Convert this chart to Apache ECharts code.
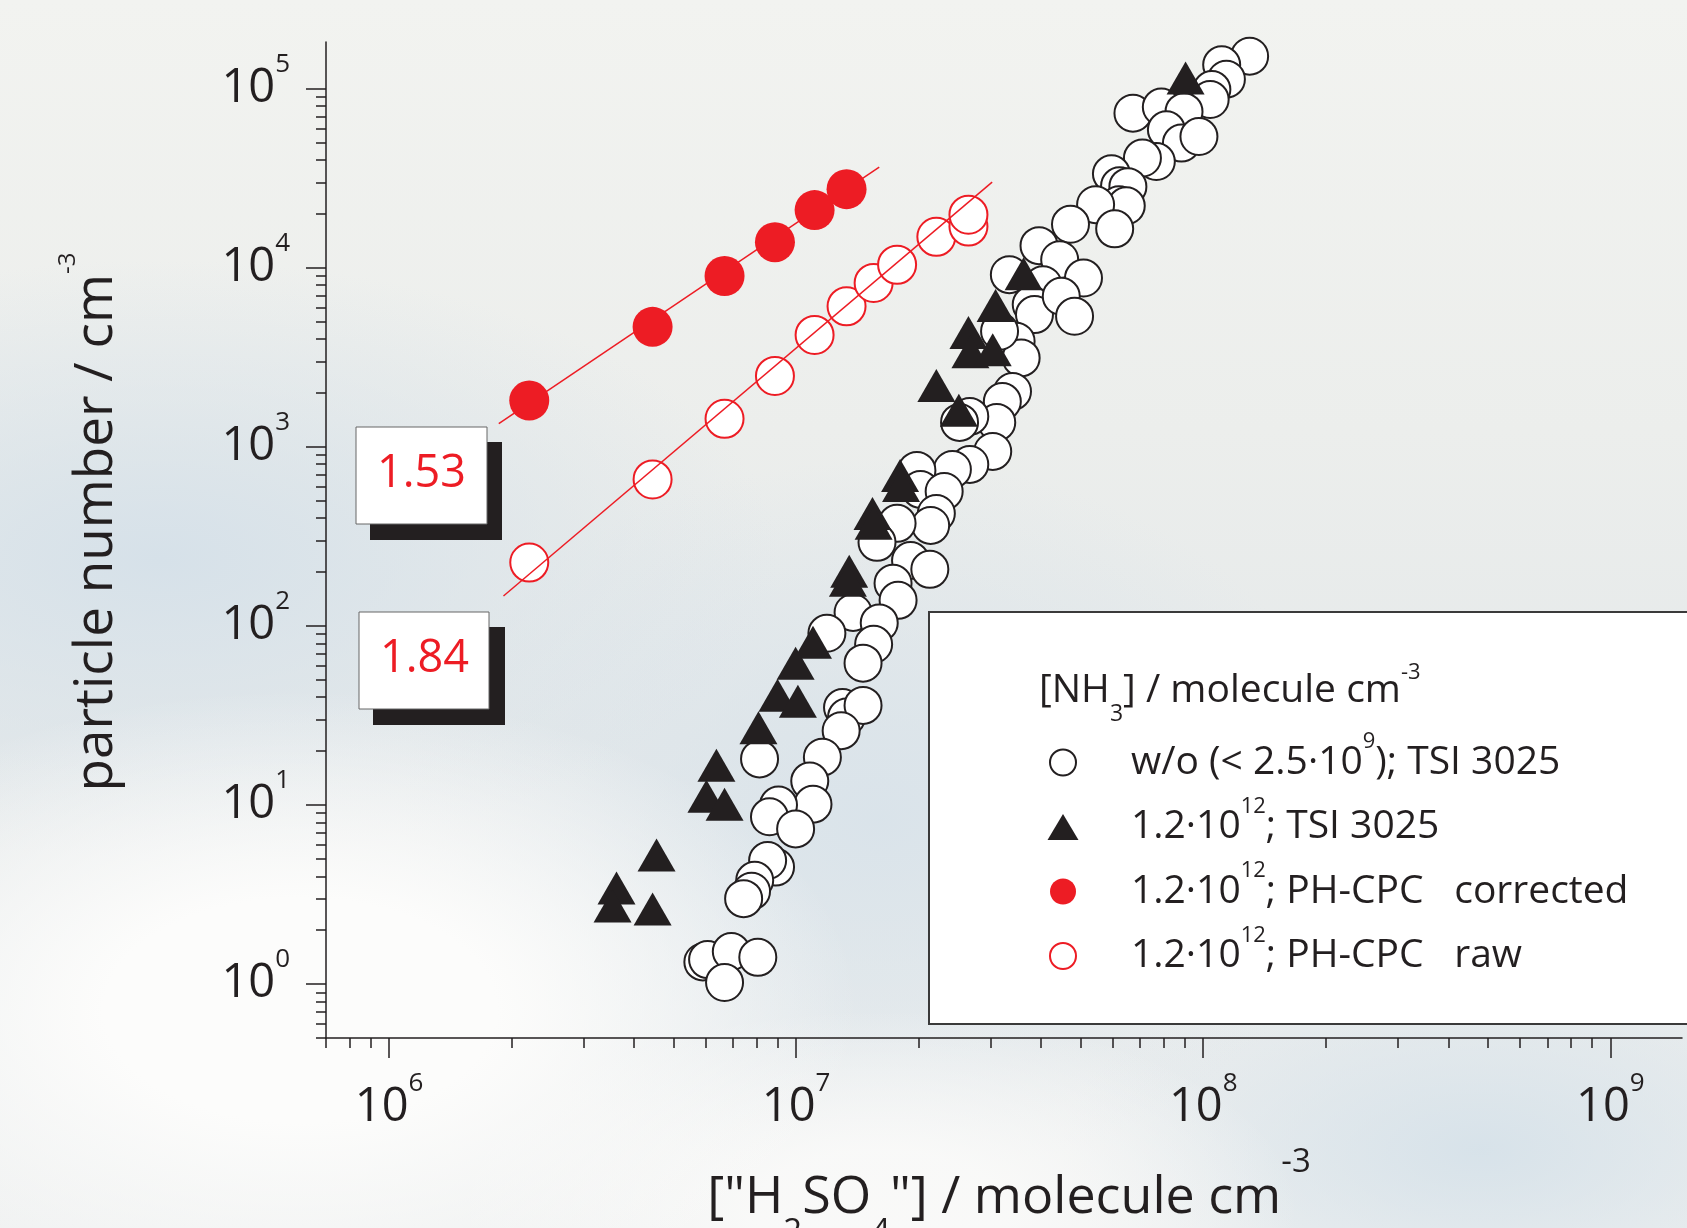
<!DOCTYPE html>
<html>
<head>
<meta charset="utf-8" />
<title>particle number vs H2SO4</title>
<script src="https://cdn.jsdelivr.net/npm/echarts@6/dist/echarts.min.js"></script>
<style>
    html, body { margin: 0; padding: 0; }
    body {
        width: 1687px; height: 1228px; overflow: hidden;
        background:
            radial-gradient(ellipse 560px 320px at 300px 1010px, rgba(252,252,251,1) 35%, rgba(252,252,251,0) 100%),
            radial-gradient(ellipse 420px 200px at 880px 1210px, rgba(250,250,249,0.9) 30%, rgba(250,250,249,0) 100%),
            radial-gradient(ellipse 620px 300px at 160px 560px, rgba(214,225,233,1) 0%, rgba(214,225,233,0) 100%),
            radial-gradient(ellipse 480px 360px at 880px 820px, rgba(217,227,234,0.95) 0%, rgba(217,227,234,0) 100%),
            radial-gradient(ellipse 420px 200px at 1480px 1150px, rgba(213,225,233,0.9) 0%, rgba(213,225,233,0) 100%),
            linear-gradient(180deg, #f2f3f0 0%, #eceeec 35%, #e5e9ea 60%, #eef0f0 100%);
    }
    #chart { width: 1687px; height: 1228px; }
</style>
</head>
<body>
<div id="chart"></div>
<script type="text/javascript">
    // w/o NH3, TSI 3025 (open black circles)
    var woX = [1.30e8, 1.11e8, 1.14e8, 1.05e8, 1.04e8, 6.72e7, 7.89e7, 8.97e7, 8.12e7, 8.84e7, 9.76e7, 7.67e7, 7.09e7,
        5.95e7, 6.23e7, 6.53e7, 6.21e7, 6.47e7, 5.44e7, 6.06e7, 4.72e7, 3.95e7, 3.34e7, 4.44e7, 5.08e7, 4.04e7, 3.78e7,
        3.85e7, 4.48e7, 4.83e7, 3.47e7, 3.57e7, 3.16e7,
        3.40e7, 3.21e7, 3.11e7, 2.67e7, 2.52e7, 3.04e7, 2.67e7, 2.42e7, 1.98e7, 2.02e7, 2.31e7, 2.21e7, 2.14e7, 1.77e7,
        1.58e7, 1.91e7, 2.13e7, 1.73e7, 1.78e7, 1.38e7, 1.60e7, 1.19e7, 1.55e7, 1.46e7, 1.30e7, 1.33e7, 1.46e7, 1.29e7,
        8.13e6, 1.16e7, 1.08e7, 1.10e7, 9.05e6, 8.60e6, 9.97e6, 8.90e6, 8.51e6, 7.91e6, 7.77e6, 7.43e6,
        5.90e6, 6.06e6, 6.93e6, 8.05e6, 6.67e6];
    var woY = [152000, 136000, 113000, 99000, 87000, 73000, 79000, 74500, 59000, 49700, 54100, 39200, 41000,
        33500, 28700, 28400, 22500, 22200, 22500, 16500, 17500, 13300, 9150, 11100, 8770, 8050, 6230,
        5480, 6930, 5360, 3890, 3140, 4420,
        2040, 1790, 1370, 1480, 1370, 943, 798, 748, 739, 579, 564, 425, 364, 374,
        293, 232, 207, 173, 139, 119, 104, 91, 79, 62, 35, 31, 36, 26,
        18.1, 18.5, 13.6, 10.1, 10, 8.6, 7.35, 4.5, 4.9, 3.8, 3.3, 3.0,
        1.33, 1.37, 1.52, 1.41, 1.02];

    // 1.2e12 NH3, TSI 3025 (black triangles)
    var triX = [9.05e7, 3.62e7, 3.09e7, 2.65e7, 2.68e7, 3.04e7, 2.21e7, 2.51e7, 1.80e7, 1.81e7, 1.54e7, 1.55e7, 1.35e7,
        1.34e7, 1.10e7, 9.97e6, 9.00e6, 1.01e7, 8.08e6, 6.37e6, 6.02e6, 6.67e6, 4.54e6, 3.62e6, 3.54e6, 4.44e6];
    var triY = [114900, 9270, 6150, 4350, 3400, 3490, 2200, 1600, 692, 609, 425, 374, 202,
        180, 81, 62, 41, 38, 27, 16.7, 11.2, 10.1, 5.26, 3.44, 2.73, 2.63];

    // PH-CPC corrected / raw
    var corrX = [2.21e6, 4.44e6, 6.67e6, 8.87e6, 1.11e7, 1.33e7];
    var corrY = [1815, 4680, 9000, 13900, 21000, 27500];
    var rawX = [2.21e6, 4.44e6, 6.67e6, 8.87e6, 1.11e7, 1.33e7, 1.55e7, 1.77e7, 2.21e7, 2.65e7, 2.65e7];
    var rawY = [226, 658, 1435, 2490, 4220, 6100, 8230, 10400, 14900, 17000, 19800];

    // fitted lines (end points)
    var corrFitX = [1.86e6, 1.60e7];
    var corrFitY = [1350, 36500];
    var rawFitX = [1.91e6, 3.03e7];
    var rawFitY = [147, 30100];

    var slopeLabels = ['1.53', '1.84'];

    var xMajor = [1e6, 1e7, 1e8, 1e9];
    var yMajor = [1, 10, 100, 1000, 10000, 100000];

    var F = "'Open Sans', 'Noto Sans', sans-serif";
    var INK = '#231f20';
    var RED = '#ed1c24';

    function minorTicks(lo, hi) {
        var out = [];
        for (var d = -1; d <= 9; d++) {
            for (var k = 2; k <= 9; k++) {
                var v = +(k * Math.pow(10, d)).toPrecision(3);
                if (v >= lo && v <= hi) out.push(v);
            }
        }
        return out;
    }
    function pairs(xs, ys) {
        return xs.map(function (x, i) { return [x, ys[i]]; });
    }
    // base / superscript / subscript rich styles
    function richSet(B, S, rise, U, drop, L) {
        return {
            b: { fontSize: B, fontFamily: F, color: INK, fill: INK, lineHeight: L },
            sup: { fontSize: S, fontFamily: F, color: INK, fill: INK, verticalAlign: 'top', height: L - 2 * rise, lineHeight: L },
            sub: { fontSize: U, fontFamily: F, color: INK, fill: INK, verticalAlign: 'bottom', height: L - 2 * drop, lineHeight: L }
        };
    }

    var xMin = 7e5, xMax = 1.5e9, yMin = 0.5, yMax = 1.824e5;
    var axisRich = richSet(47, 26, 24.4, 26, 20, 60);
    function powLabel(v) {
        return '{b|10}{sup|' + Math.round(Math.log10(v)) + '}';
    }

    var names = ['wo', 'tri', 'corr', 'raw'];
    var legendText = {
        wo: '{b|w/o (< 2.5·10}{sup|9}{b|); TSI 3025}',
        tri: '{b|1.2·10}{sup|12}{b|; TSI 3025}',
        corr: '{b|1.2·10}{sup|12}{b|; }{w|PH-CPC}{b|corrected}',
        raw: '{b|1.2·10}{sup|12}{b|; }{w|PH-CPC}{b|raw}'
    };
    var legendRich = richSet(39, 22, 20.5, 22, 18, 58);
    legendRich.w = { fontSize: 39, fontFamily: F, color: INK, lineHeight: 58, width: 168 };

    var titleRich = richSet(39, 22, 18.2, 23, 23.3, 58.4);

    var myChart = echarts.init(document.getElementById('chart'), null, { renderer: 'canvas' });

    var axisLineStyle = { color: INK, width: 1.5 };

    var option = {
        animation: false,
        backgroundColor: 'transparent',
        textStyle: { fontFamily: F },
        grid: { left: 326, top: 42, right: 5, bottom: 190, outerBoundsMode: 'none', containLabel: false },
        xAxis: [{
            type: 'log', logBase: 10, min: xMin, max: xMax, position: 'bottom',
            axisLine: { show: true, lineStyle: axisLineStyle },
            axisTick: { show: true, inside: false, length: 20, lineStyle: axisLineStyle, customValues: xMajor },
            axisLabel: { show: true, margin: 40, customValues: xMajor, formatter: powLabel, rich: axisRich },
            splitLine: { show: false },
            name: '{b|["H}{sub|2}{b|SO}{sub|4}{b|"] / molecule cm}{sup|-3}',
            nameLocation: 'middle', nameGap: 115,
            nameTextStyle: { rich: richSet(52, 33, 35, 33, 35, 90), padding: [0, 0, 0, 10] }
        }, {
            type: 'log', logBase: 10, min: xMin, max: xMax, position: 'bottom',
            axisLine: { show: false },
            axisTick: { show: true, inside: false, length: 10, lineStyle: axisLineStyle, customValues: minorTicks(xMin, xMax) },
            axisLabel: { show: false },
            splitLine: { show: false }
        }],
        yAxis: [{
            type: 'log', logBase: 10, min: yMin, max: yMax, position: 'left',
            axisLine: { show: true, lineStyle: axisLineStyle },
            axisTick: { show: true, inside: false, length: 20, lineStyle: axisLineStyle, customValues: yMajor },
            axisLabel: { show: true, margin: 36, customValues: yMajor, formatter: powLabel, rich: axisRich },
            splitLine: { show: false },
            name: '{b|particle number / cm}{sup|-3}',
            nameLocation: 'middle', nameGap: 198,
            nameTextStyle: { rich: richSet(53, 24, 28.6, 24, 20, 62), padding: [0, 0, 0, 36] }
        }, {
            type: 'log', logBase: 10, min: yMin, max: yMax, position: 'left',
            axisLine: { show: false },
            axisTick: { show: true, inside: false, length: 10, lineStyle: axisLineStyle, customValues: minorTicks(yMin, yMax) },
            axisLabel: { show: false },
            splitLine: { show: false }
        }],
        legend: {
            data: names,
            selectedMode: false,
            orient: 'vertical',
            left: 1047.5, top: 731,
            padding: 0,
            itemWidth: 31, itemHeight: 26, itemGap: 13.5,
            formatter: function (name) { return legendText[name]; },
            textStyle: { color: INK, padding: [0, 0, 0, 47.5], rich: legendRich },
            z: 10
        },
        graphic: [
            // legend frame
            { type: 'rect', z: 1, shape: { x: 929, y: 612, width: 770, height: 412 },
              style: { fill: '#ffffff', stroke: '#3a3a3a', lineWidth: 2 } },
            { type: 'text', z: 12, x: 1039, y: 662,
              style: { text: '{b|[NH}{sub|3}{b|] / molecule cm}{sup|-3}', rich: titleRich, align: 'left', verticalAlign: 'top', fill: INK } },
            // slope boxes
            { type: 'rect', z: 20, shape: { x: 370, y: 442, width: 132, height: 98 }, style: { fill: INK } },
            { type: 'rect', z: 21, shape: { x: 356, y: 427, width: 131, height: 97 }, style: { fill: '#ffffff', stroke: '#666', lineWidth: 1 } },
            { type: 'text', z: 22, x: 421.5, y: 474,
              style: { text: slopeLabels[0], fontSize: 45, fontFamily: F, fill: RED, align: 'center', verticalAlign: 'middle' } },
            { type: 'rect', z: 20, shape: { x: 373, y: 627, width: 132, height: 98 }, style: { fill: INK } },
            { type: 'rect', z: 21, shape: { x: 359, y: 612, width: 130, height: 97 }, style: { fill: '#ffffff', stroke: '#666', lineWidth: 1 } },
            { type: 'text', z: 22, x: 424.5, y: 659,
              style: { text: slopeLabels[1], fontSize: 45, fontFamily: F, fill: RED, align: 'center', verticalAlign: 'middle' } }
        ],
        series: [{
            name: 'wo', type: 'scatter', z: 2,
            symbol: 'circle', symbolSize: 37,
            itemStyle: { color: '#ffffff', borderColor: INK, borderWidth: 2, opacity: 1 },
            emphasis: { disabled: true },
            data: pairs(woX, woY)
        }, {
            name: 'tri', type: 'scatter', z: 3,
            symbol: 'triangle', symbolSize: [38, 33],
            itemStyle: { color: INK, opacity: 1 },
            emphasis: { disabled: true },
            data: pairs(triX, triY)
        }, {
            name: 'corrFit', type: 'line', z: 4,
            symbol: 'none', silent: true,
            lineStyle: { color: RED, width: 1.5 },
            data: pairs(corrFitX, corrFitY)
        }, {
            name: 'raw', type: 'scatter', z: 5,
            symbol: 'circle', symbolSize: 38,
            itemStyle: { color: '#ffffff', borderColor: RED, borderWidth: 2, opacity: 1 },
            emphasis: { disabled: true },
            data: pairs(rawX, rawY)
        }, {
            name: 'rawFit', type: 'line', z: 6,
            symbol: 'none', silent: true,
            lineStyle: { color: RED, width: 1.5 },
            data: pairs(rawFitX, rawFitY)
        }, {
            name: 'corr', type: 'scatter', z: 7,
            symbol: 'circle', symbolSize: 40,
            itemStyle: { color: RED, opacity: 1 },
            emphasis: { disabled: true },
            data: pairs(corrX, corrY)
        }]
    };
    option && myChart.setOption(option);
</script>
</body>
</html>
